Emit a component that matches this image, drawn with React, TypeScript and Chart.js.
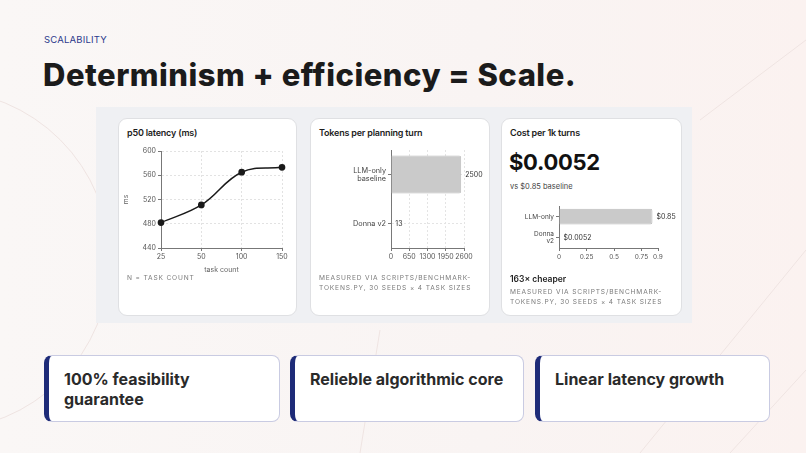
import React, { useEffect, useRef } from "react";
import { Chart, registerables } from "chart.js";

Chart.register(...registerables);

// ---- data ----
const latencyCategories = ["25", "50", "100", "150"];
const latencyValues = [482, 511, 565, 573];
const latencyTicks = { min: 440, max: 600, step: 40 };

const tokenCategories = [["LLM-only", "baseline"], "Donna v2"];
const tokenValues = [2500, 13];
const tokenValueLabels = ["2500", "13"];
const tokenTickValues = [0, 650, 1300, 1950, 2600];

const costCategories = ["LLM-only", ["Donna", "v2"]];
const costValues = [0.85, 0.0052];
const costValueLabels = ["$0.85", "$0.0052"];
const costTickValues = [0, 0.25, 0.5, 0.75, 0.9];

const features = ["100% feasibility guarantee", "Relieble algorithmic core", "Linear latency growth"];

const FONT = "Inter, 'Noto Sans', sans-serif";
const TICK_COLOR = "#555";

const valueLabelPlugin = (labels: string[]) => ({
  id: "valueLabels",
  afterDatasetsDraw(chart: any) {
    const ctx = chart.ctx;
    const meta = chart.getDatasetMeta(0);
    ctx.save();
    ctx.font = `7px ${FONT}`;
    ctx.fillStyle = "#333";
    ctx.textAlign = "left";
    ctx.textBaseline = "middle";
    meta.data.forEach((el: any, i: number) => {
      ctx.fillText(labels[i], el.x + 4, el.y);
    });
    ctx.restore();
  },
});

const fixedTicks = (values: number[]) => (s: any) => {
  s.ticks = values.map((v) => ({ value: v }));
};

function useChart(ref: React.RefObject<HTMLCanvasElement>, make: (c: HTMLCanvasElement) => Chart) {
  useEffect(() => {
    if (!ref.current) return;
    const ch = make(ref.current);
    return () => ch.destroy();
  }, []);
}

function LatencyChart() {
  const ref = useRef<HTMLCanvasElement>(null);
  useChart(ref, (c) =>
    new Chart(c, {
      type: "line",
      data: {
        labels: latencyCategories,
        datasets: [
          {
            data: latencyValues,
            borderColor: "#1a1a1a",
            backgroundColor: "#1a1a1a",
            borderWidth: 1.5,
            pointRadius: 2.6,
            pointBackgroundColor: "#1a1a1a",
            tension: 0.4,
          },
        ],
      },
      options: {
        responsive: false,
        animation: false,
        layout: { padding: { top: 7, right: 8, left: 0, bottom: 0 } },
        plugins: { legend: { display: false }, tooltip: { enabled: false } },
        scales: {
          x: {
            offset: false,
            grid: { color: "#e2e2e2", tickColor: "#777", tickLength: 3 },
            border: { color: "#777", dash: [2, 2] },
            ticks: { color: TICK_COLOR, font: { size: 7, family: FONT }, padding: 2, maxRotation: 0 },
            title: { display: true, text: "task count", color: "#666", font: { size: 7, family: FONT }, padding: { top: 2, bottom: 0 } },
            afterFit: (s: any) => { s.height = 26; },
          },
          y: {
            min: latencyTicks.min,
            max: latencyTicks.max,
            ticks: { stepSize: latencyTicks.step, color: TICK_COLOR, font: { size: 7, family: FONT }, padding: 2 },
            grid: { color: "#e2e2e2", tickColor: "#777", tickLength: 3 },
            border: { color: "#777", dash: [2, 2] },
            title: { display: true, text: "ms", color: "#666", font: { size: 7, family: FONT }, padding: { top: 0, bottom: 2 } },
            afterFit: (s: any) => { s.width = 39; },
          },
        },
      },
    } as any)
  );
  return <canvas ref={ref} width={168} height={130} style={{ position: "absolute", left: 122, top: 144, width: 168, height: 130 }} />;
}

function TokensChart() {
  const ref = useRef<HTMLCanvasElement>(null);
  useChart(ref, (c) =>
    new Chart(c, {
      type: "bar",
      data: {
        labels: tokenCategories,
        datasets: [
          {
            data: tokenValues,
            backgroundColor: "#cacaca",
            borderColor: "#bcbcbc",
            borderWidth: 1,
            borderRadius: 2,
            categoryPercentage: 0.8,
            barPercentage: 0.97,
          },
        ],
      },
      options: {
        indexAxis: "y",
        responsive: false,
        animation: false,
        layout: { padding: { top: 7, right: 24, left: 0, bottom: 0 } },
        plugins: { legend: { display: false }, tooltip: { enabled: false } },
        scales: {
          x: {
            min: tokenTickValues[0],
            max: tokenTickValues[tokenTickValues.length - 1],
            afterBuildTicks: fixedTicks(tokenTickValues),
            ticks: { autoSkip: false, callback: (v: any) => String(v), color: TICK_COLOR, font: { size: 7, family: FONT }, padding: 2, maxRotation: 0 },
            grid: { color: "#e4e4e4", tickColor: "#777", tickLength: 3 },
            border: { color: "#777", dash: [2, 2] },
            afterFit: (s: any) => { s.height = 15; },
          },
          y: {
            offset: true,
            grid: { color: "#e4e4e4", tickColor: "#777", tickLength: 3, offset: false },
            border: { color: "#777", dash: [2, 2] },
            ticks: { color: "#444", font: { size: 7.3, family: FONT, lineHeight: 1.1 }, padding: 2 },
            afterFit: (s: any) => { s.width = 73; },
          },
        },
      },
      plugins: [valueLabelPlugin(tokenValueLabels)],
    } as any)
  );
  return <canvas ref={ref} width={170} height={120} style={{ position: "absolute", left: 318, top: 143, width: 170, height: 120 }} />;
}

function CostChart() {
  const ref = useRef<HTMLCanvasElement>(null);
  useChart(ref, (c) =>
    new Chart(c, {
      type: "bar",
      data: {
        labels: costCategories,
        datasets: [
          {
            data: costValues,
            backgroundColor: "#cacaca",
            borderColor: "#bcbcbc",
            borderWidth: 1,
            borderRadius: 2,
            categoryPercentage: 0.8,
            barPercentage: 0.94,
          },
        ],
      },
      options: {
        indexAxis: "y",
        responsive: false,
        animation: false,
        layout: { padding: { top: 6, right: 22, left: 0, bottom: 0 } },
        plugins: { legend: { display: false }, tooltip: { enabled: false } },
        scales: {
          x: {
            min: costTickValues[0],
            max: costTickValues[costTickValues.length - 1],
            afterBuildTicks: fixedTicks(costTickValues),
            ticks: { autoSkip: false, callback: (v: any) => String(v), color: TICK_COLOR, font: { size: 6.5, family: FONT }, padding: 2, maxRotation: 0 },
            grid: { drawOnChartArea: false, tickColor: "#777", tickLength: 3 },
            border: { color: "#777" },
            afterFit: (s: any) => { s.height = 15; },
          },
          y: {
            offset: true,
            grid: { drawOnChartArea: false, tickColor: "#777", tickLength: 3, offset: false },
            border: { color: "#777" },
            ticks: { color: "#444", font: { size: 6.5, family: FONT, lineHeight: 1.1 }, padding: 2 },
            afterFit: (s: any) => { s.width = 54; },
          },
        },
      },
      plugins: [valueLabelPlugin(costValueLabels)],
    } as any)
  );
  return <canvas ref={ref} width={175} height={66} style={{ position: "absolute", left: 505, top: 197, width: 175, height: 66 }} />;
}

const abs = (l: number, t: number, extra: React.CSSProperties = {}): React.CSSProperties => ({
  position: "absolute",
  left: l,
  top: t,
  ...extra,
});

const cardStyle = (l: number, w: number): React.CSSProperties => ({
  position: "absolute",
  left: l,
  top: 118,
  width: w,
  height: 198,
  background: "#ffffff",
  border: "1px solid #dfe0e3",
  borderRadius: 9,
  boxSizing: "border-box",
});

const titleStyle: React.CSSProperties = { fontSize: 9, fontWeight: 600, color: "#1d1d1d", whiteSpace: "nowrap", lineHeight: "12px", letterSpacing: -0.2 };
const capStyle: React.CSSProperties = { fontSize: 6.6, letterSpacing: 0.85, color: "#7a7a7a", lineHeight: "10px", whiteSpace: "nowrap" };

export default function App() {
  return (
    <div style={{ position: "fixed", left: 0, top: 0, width: 806, height: 453, overflow: "hidden", background: "linear-gradient(90deg,#faf7f6 0%,#f9f4f3 60%,#fbf2f0 100%)", fontFamily: FONT }}>
      <svg width={806} height={453} style={{ position: "absolute", left: 0, top: 0 }}>
        <g fill="none" stroke="#efe4e2" strokeWidth={1}>
          <circle cx={-60} cy={260} r={170} />
          <line x1={640} y1={453} x2={806} y2={250} />
          <line x1={700} y1={120} x2={806} y2={40} />
          <line x1={730} y1={453} x2={806} y2={370} />
          <line x1={360} y1={453} x2={380} y2={330} />
        </g>
      </svg>
      <div style={abs(44, 34, { fontSize: 9.5, color: "#2c3a8c", letterSpacing: 0.2, lineHeight: "12px" })}>SCALABILITY</div>
      <div style={abs(43, 56, { fontSize: 31, fontWeight: 800, color: "#1b1b1b", lineHeight: "38px", letterSpacing: 0.5, whiteSpace: "nowrap" })}>
        Determinism + efficiency = Scale.
      </div>

      <div style={abs(96, 107, { width: 596, height: 216, background: "#eff0f3" })} />

      <div style={cardStyle(118, 179)} />
      <div style={cardStyle(310, 180)} />
      <div style={cardStyle(501, 181)} />

      <div style={abs(127, 127, titleStyle)}>p50 latency (ms)</div>
      <LatencyChart />
      <div style={abs(127, 273, capStyle)}>N = TASK COUNT</div>

      <div style={abs(319, 127, titleStyle)}>Tokens per planning turn</div>
      <TokensChart />
      <div style={abs(319, 273, capStyle)}>
        MEASURED VIA SCRIPTS/BENCHMARK-
        <br />
        TOKENS.PY, 30 SEEDS × 4 TASK SIZES
      </div>

      <div style={abs(510, 127, titleStyle)}>Cost per 1k turns</div>
      <div style={abs(509, 148, { fontSize: 22, fontWeight: 700, color: "#111", lineHeight: "28px", letterSpacing: -0.3 })}>$0.0052</div>
      <div style={abs(510, 182, { fontSize: 7.5, color: "#444", lineHeight: "10px" })}>vs $0.85 baseline</div>
      <CostChart />
      <div style={abs(510, 273, { fontSize: 8.5, fontWeight: 600, color: "#1d1d1d", lineHeight: "12px" })}>163× cheaper</div>
      <div style={abs(510, 287, capStyle)}>
        MEASURED VIA SCRIPTS/BENCHMARK-
        <br />
        TOKENS.PY, 30 SEEDS × 4 TASK SIZES
      </div>

      {features.map((f, i) => {
        const lefts = [44, 290, 535];
        const widths = [236, 234, 235];
        return (
          <div
            key={i}
            style={abs(lefts[i], 355, {
              width: widths[i],
              height: 67,
              boxSizing: "border-box",
              background: "#ffffff",
              border: "1px solid #c9cbe2",
              borderLeft: "5px solid #1e2b78",
              borderRadius: 8,
              padding: "13px 12px 0 15px",
              fontSize: 16,
              fontWeight: 700,
              color: "#2a2a2a",
              lineHeight: "20px",
            })}
          >
            {f}
          </div>
        );
      })}
    </div>
  );
}
